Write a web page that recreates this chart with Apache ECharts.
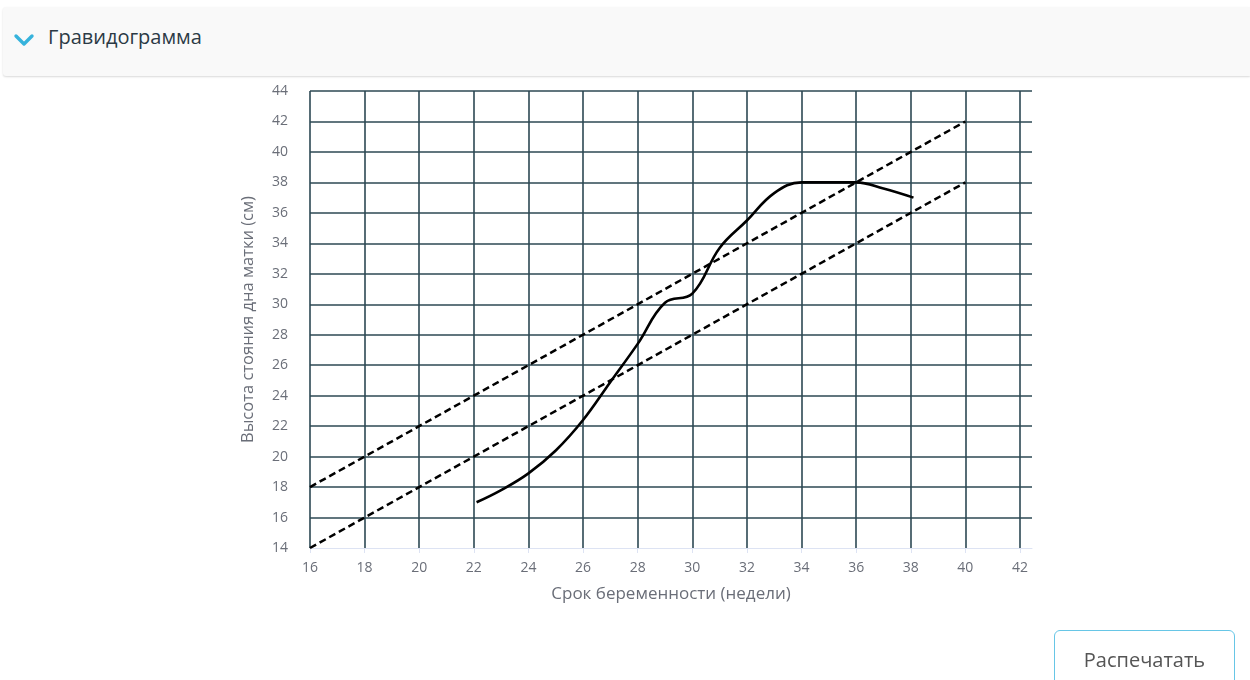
<!DOCTYPE html>
<html>
<head>
<meta charset="utf-8">
<script src="https://cdn.jsdelivr.net/npm/echarts@6/dist/echarts.min.js"></script>
<style>
  html, body { margin: 0; padding: 0; background: #fff; width: 1250px; height: 680px; overflow: hidden; font-family: "Open Sans", sans-serif; }
  #chart { position: absolute; left: 0; top: 0; width: 1250px; height: 680px; }
  .panel { position: absolute; left: 3px; top: 7px; width: 1247px; height: 69px; background: #f9f9f9; box-shadow: 0 1px 2px rgba(0,0,0,0.15); border-radius: 3px 0 0 3px; }
  .panel svg { position: absolute; left: 9px; top: 24px; }
  .panel .title { position: absolute; left: 45px; top: 16px; font-size: 20px; color: #2b3a45; }
  .btn { position: absolute; left: 1054px; top: 630px; width: 181px; height: 60px; border: 1px solid #67c6e6; border-radius: 6px; background: #fff; box-sizing: border-box; }
  .btn span { position: absolute; left: 0; right: 0; top: 15px; text-align: center; font-size: 20px; color: #555; }
</style>
</head>
<body>
<div class="panel">
  <svg width="24" height="18" viewBox="0 0 24 18"><polyline points="4,5 12,13 20,5" fill="none" stroke="#36b3dc" stroke-width="3.4" stroke-linecap="round" stroke-linejoin="round"/></svg>
  <div class="title">Гравидограмма</div>
</div>
<div id="chart"></div>
<div class="btn"><span>Распечатать</span></div>
<script>
// Measured fundal height curve
const weeks   = [22.1, 23, 24, 25, 26, 27, 28, 29, 30, 31, 32, 33, 34, 35, 36, 37, 38.1];
const heights = [17.0, 17.8, 18.9, 20.4, 22.4, 24.9, 27.4, 30.1, 30.7, 33.7, 35.5, 37.3, 38.0, 38.0, 38.0, 37.6, 37.0];
// Upper and lower norm lines (endpoints)
const upperWeeks = [16, 40];
const upperValues = [18, 42];
const lowerWeeks = [16, 40];
const lowerValues = [14, 38];
const xTitle = 'Срок беременности (недели)';
const yTitle = 'Высота стояния дна матки (см)';

const zip = (a, b) => a.map((v, i) => [v, b[i]]);
const gridColor = '#2c4853';
const labelFont = { color: '#6a6e78', fontSize: 14, fontFamily: 'Open Sans' };

const chart = echarts.init(document.getElementById('chart'), null, { renderer: 'canvas' });
chart.setOption({
  animation: false,
  grid: { left: 310, top: 91, right: 218, bottom: 132, containLabel: false },
  xAxis: {
    type: 'value', min: 16, max: 42.44, interval: 2,
    name: xTitle, nameLocation: 'middle', nameGap: 38,
    nameTextStyle: { color: '#6a6e78', fontSize: 17, fontFamily: 'Open Sans' },
    axisLine: { show: true, lineStyle: { color: '#dde3f3', width: 1 } },
    axisTick: { show: true, length: 5, lineStyle: { color: '#dde3f3' } },
    axisLabel: Object.assign({ margin: 13, showMaxLabel: false, formatter: v => (v > 42 ? '' : v) }, labelFont),
    splitLine: { show: true, showMaxLine: false, lineStyle: { color: gridColor, width: 1.6 } },
    z: 3
  },
  yAxis: {
    type: 'value', min: 14, max: 44, interval: 2,
    name: yTitle, nameLocation: 'middle', nameGap: 53,
    nameTextStyle: { color: '#6a6e78', fontSize: 16.5, fontFamily: 'Open Sans' },
    axisLine: { show: false },
    axisTick: { show: false },
    axisLabel: Object.assign({ margin: 22 }, labelFont),
    splitLine: { show: true, showMinLine: false, lineStyle: { color: gridColor, width: 1.6 } }
  },
  series: [
    { type: 'line', data: zip(upperWeeks, upperValues), symbol: 'none', lineStyle: { color: '#000', width: 2.5, type: [7, 4] }, z: 5 },
    { type: 'line', data: zip(lowerWeeks, lowerValues), symbol: 'none', lineStyle: { color: '#000', width: 2.5, type: [7, 4] }, z: 5 },
    { type: 'line', data: zip(weeks, heights), symbol: 'none', smooth: 0.4, lineStyle: { color: '#000', width: 2.6 }, z: 6 }
  ]
});
</script>
</body>
</html>
